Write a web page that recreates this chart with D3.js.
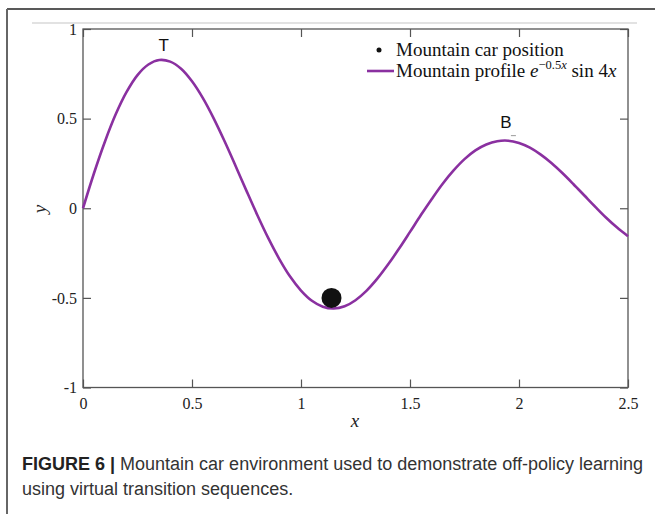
<!DOCTYPE html>
<html>
<head>
<meta charset="utf-8">
<script src="https://cdn.jsdelivr.net/npm/d3@7/dist/d3.min.js"></script>
<style>
  body { margin: 0; background: #fff; }
  svg { display: block; }
  .serif { font-family: "Liberation Serif", "Times New Roman", serif; }
  .tick text { font-family: "Liberation Serif", "Times New Roman", serif; font-size: 16px; fill: #222; }
  .tick line { stroke: #555; stroke-width: 1.2; }
</style>
</head>
<body>
<svg id="chart" width="655" height="514"></svg>
<script>
// mountain profile, every 0.05 along x
var profileX = [0, 0.05, 0.1, 0.15, 0.2, 0.25, 0.3, 0.35, 0.4, 0.45, 0.5,
  0.55, 0.6, 0.65, 0.7, 0.75, 0.8, 0.85, 0.9, 0.95, 1, 1.05, 1.1, 1.15, 1.2,
  1.25, 1.3, 1.35, 1.4, 1.45, 1.5, 1.55, 1.6, 1.65, 1.7, 1.75, 1.8, 1.85,
  1.9, 1.95, 2, 2.05, 2.1, 2.15, 2.2, 2.25, 2.3, 2.35, 2.4, 2.45, 2.5];
var profileY = [0, 0.194, 0.370, 0.524, 0.649, 0.743, 0.802, 0.827, 0.818,
  0.778, 0.708, 0.614, 0.500, 0.372, 0.236, 0.097, -0.039, -0.167, -0.282,
  -0.381, -0.459, -0.516, -0.549, -0.559, -0.547, -0.513, -0.461, -0.393,
  -0.313, -0.225, -0.132, -0.038, 0.052, 0.137, 0.211, 0.274, 0.323, 0.356,
  0.374, 0.377, 0.364, 0.338, 0.299, 0.251, 0.195, 0.134, 0.071, 0.008,
  -0.053, -0.108, -0.156];
var carPosition = [1.14, -0.5];
var xTicks = [0, 0.5, 1, 1.5, 2, 2.5];
var yTicks = [-1, -0.5, 0, 0.5, 1];
var peakLabels = [
  { text: 'T', x: 0.37, y: 0.88 },
  { text: 'B', x: 1.94, y: 0.446 }
];
var captionLines = [
  'Mountain car environment used to demonstrate off-policy learning',
  'using virtual transition sequences.'
];

(function () {
  var purple = '#8a30a0';
  var svg = d3.select('#chart');

  // page frame
  svg.append('line').attr('x1', 7).attr('y1', 9).attr('x2', 655).attr('y2', 9)
    .attr('stroke', '#222').attr('stroke-width', 1.5);
  svg.append('line').attr('x1', 7).attr('y1', 9).attr('x2', 7).attr('y2', 514)
    .attr('stroke', '#666').attr('stroke-width', 2);
  svg.append('line').attr('x1', 32).attr('y1', 23).attr('x2', 637).attr('y2', 23)
    .attr('stroke', '#d8d8d8').attr('stroke-width', 1.5);

  var plotL = 83, plotR = 628, plotT = 29, plotB = 387.5;
  var x = d3.scaleLinear().domain([0, 2.5]).range([plotL, plotR]);
  var y = d3.scaleLinear().domain([-1, 1]).range([plotB, plotT]);
  var fmt = function (d) { return String(d); };

  // axes, ticks pointing inwards on all four sides
  function dropDomain(g) {
    g.select('.domain').remove();
  }
  svg.append('g').attr('transform', 'translate(0,' + plotB + ')')
    .call(d3.axisBottom(x).tickValues(xTicks).tickFormat(fmt).tickSizeInner(-8).tickSizeOuter(0).tickPadding(10))
    .call(dropDomain);
  svg.append('g').attr('transform', 'translate(' + plotL + ',0)')
    .call(d3.axisLeft(y).tickValues(yTicks).tickFormat(fmt).tickSizeInner(-8).tickSizeOuter(0).tickPadding(6))
    .call(dropDomain);
  svg.append('g').attr('transform', 'translate(0,' + plotT + ')')
    .call(d3.axisTop(x).tickValues(xTicks).tickFormat('').tickSizeInner(-8).tickSizeOuter(0))
    .call(dropDomain);
  svg.append('g').attr('transform', 'translate(' + plotR + ',0)')
    .call(d3.axisRight(y).tickValues(yTicks).tickFormat('').tickSizeInner(-8).tickSizeOuter(0))
    .call(dropDomain);
  svg.append('rect')
    .attr('x', plotL).attr('y', plotT)
    .attr('width', plotR - plotL).attr('height', plotB - plotT)
    .attr('fill', 'none').attr('stroke', '#555').attr('stroke-width', 1.3);

  // axis titles
  svg.append('text').attr('class', 'serif')
    .attr('x', 355).attr('y', 427)
    .attr('text-anchor', 'middle')
    .attr('font-size', 19).attr('font-style', 'italic').attr('fill', '#222')
    .text('x');
  svg.append('text').attr('class', 'serif')
    .attr('transform', 'translate(46,209) rotate(-90)')
    .attr('text-anchor', 'middle')
    .attr('font-size', 19).attr('font-style', 'italic').attr('fill', '#222')
    .text('y');

  // mountain profile
  var profile = profileX.map(function (d, i) { return [d, profileY[i]]; });
  var line = d3.line()
    .x(function (d) { return x(d[0]); })
    .y(function (d) { return y(d[1]); })
    .curve(d3.curveCatmullRom);
  svg.append('path')
    .datum(profile)
    .attr('d', line)
    .attr('fill', 'none')
    .attr('stroke', purple)
    .attr('stroke-width', 2.6);

  // car
  svg.append('circle')
    .attr('cx', x(carPosition[0]))
    .attr('cy', y(carPosition[1]))
    .attr('r', 10)
    .attr('fill', '#111');

  // peak labels
  svg.selectAll('.peak')
    .data(peakLabels)
    .enter()
    .append('text')
    .classed('peak', true)
    .attr('x', function (d) { return x(d.x); })
    .attr('y', function (d) { return y(d.y); })
    .attr('text-anchor', 'middle')
    .attr('font-family', '"Liberation Sans", Arial, sans-serif')
    .attr('font-size', 17)
    .attr('fill', '#111')
    .text(function (d) { return d.text; });
  // little grey dash under B
  svg.append('line')
    .attr('x1', x(1.94) + 5).attr('x2', x(1.94) + 10)
    .attr('y1', y(0.405)).attr('y2', y(0.405))
    .attr('stroke', '#999').attr('stroke-width', 1);

  // legend
  var legend = svg.append('g').attr('class', 'serif').attr('font-size', 19).attr('fill', '#111');
  legend.append('circle').attr('cx', 379).attr('cy', 50).attr('r', 2.5).attr('fill', '#111');
  legend.append('text').attr('x', 396).attr('y', 56).text('Mountain car position');
  legend.append('line').attr('x1', 367).attr('x2', 394).attr('y1', 71).attr('y2', 71)
    .attr('stroke', purple).attr('stroke-width', 2.6);
  var t2 = legend.append('text').attr('x', 396).attr('y', 77);
  t2.append('tspan').text('Mountain profile ');
  t2.append('tspan').attr('font-style', 'italic').text('e');
  t2.append('tspan').attr('font-size', 12.5).attr('dy', -8).text('\u22120.5');
  t2.append('tspan').attr('font-size', 12.5).attr('font-style', 'italic').text('x');
  t2.append('tspan').attr('dy', 8).text(' sin 4');
  t2.append('tspan').attr('font-style', 'italic').text('x');

  // caption
  var cap = svg.append('g')
    .attr('font-family', '"Liberation Sans", Arial, sans-serif')
    .attr('font-size', 18)
    .attr('fill', '#333');
  var c1 = cap.append('text').attr('x', 22).attr('y', 470);
  c1.append('tspan').attr('font-weight', 'bold').attr('fill', '#222').text('FIGURE 6 | ');
  c1.append('tspan').text(captionLines[0]);
  cap.append('text').attr('x', 22).attr('y', 495).text(captionLines[1]);
})();
</script>
</body>
</html>
